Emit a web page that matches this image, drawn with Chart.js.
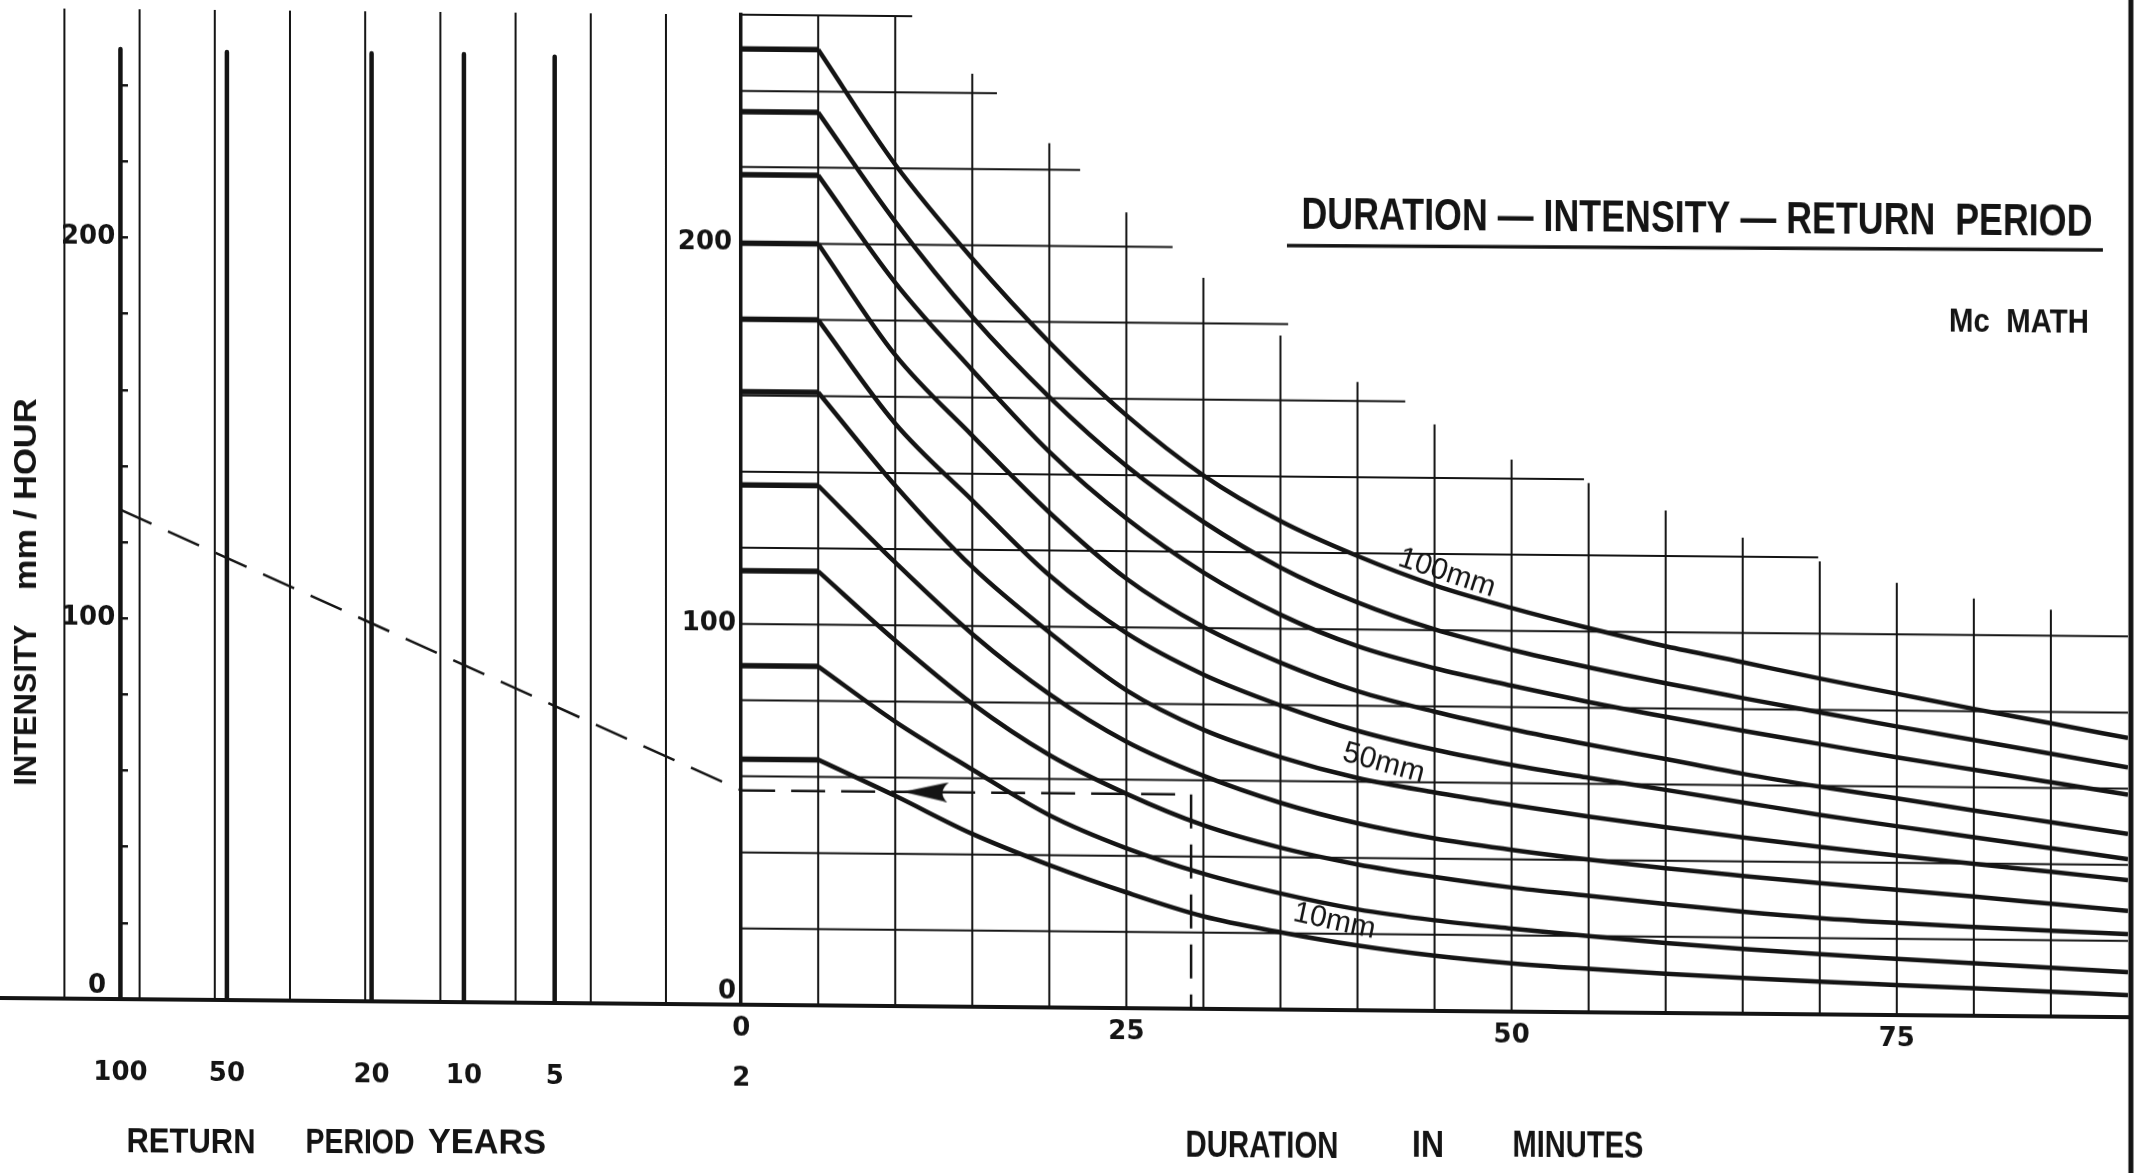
<!DOCTYPE html>
<html>
<head>
<meta charset="utf-8">
<title>Duration - Intensity - Return Period (Mc Math)</title>
<script src="https://cdn.jsdelivr.net/npm/chart.js@4.4.1/dist/chart.umd.min.js"></script>
<style>
  html, body { margin: 0; padding: 0; background: #fff; overflow: hidden; }
  #wrap { position: relative; width: 2152px; height: 1173px; overflow: hidden; background: #fff; }
  /* the scanned sheet runs slightly downhill to the right; tilt the drawing the same way */
  #nomogram { position: absolute; left: 0; top: -20px; transform: skewY(0.516deg); transform-origin: 0 0; }
</style>
</head>
<body>
<div id="wrap"><canvas id="nomogram" width="2152" height="1213"></canvas></div>
<script>
/* ---------- values ---------- */

// duration (minutes) where each rainfall curve was read
const durations = [5, 10, 15, 20, 25, 30, 35, 40, 45, 50, 55, 60, 65, 70, 75, 80, 85, 90];

// intensity (mm/hour) for each rainfall curve; first value is also the flat part below 5 min
const mm100 = [251, 221, 196.5, 174.7, 155.7, 140.1, 128.3, 119.3, 111.8, 106, 100.9, 96.3, 92.3, 88.2, 84.4, 80.6, 77, 73.3];
const mm90  = [234.5, 206, 181.2, 160.3, 142.4, 127.9, 116.1, 107.1, 100.2, 95, 90.6, 86.6, 82.9, 79.3, 75.8, 72.4, 69, 65.6];
const mm80  = [218, 190, 167.2, 145.9, 128.6, 114.6, 103.7, 95.6, 90, 85.6, 81.5, 77.8, 74.3, 71, 67.7, 64.6, 61.5, 58.4];
const mm70  = [200, 171, 150, 130, 112.8, 100.3, 91.1, 83.8, 78.6, 74.2, 70.3, 66.7, 63, 59.8, 56.9, 53.9, 51, 48.1];
const mm60  = [180, 153, 133, 113.5, 98.5, 87.8, 79.9, 73.4, 68.6, 64.8, 61.6, 58.6, 55.5, 52.4, 49.6, 46.9, 44.2, 41.5];
const mm50  = [161, 136.7, 115.5, 98.5, 83.5, 73.3, 66.3, 61, 57.4, 54.3, 51.4, 48.8, 46.3, 44, 41.9, 39.9, 38, 36];
const mm40  = [136.5, 116.5, 97.9, 82.3, 70, 61.2, 54.3, 49.1, 45.3, 42.5, 40.1, 38, 36.2, 34.5, 32.9, 31.3, 29.6, 27.9];
const mm30  = [114, 96, 79.6, 66.3, 56.3, 48.2, 42.5, 38.3, 35.2, 32.6, 30.6, 28.6, 26.8, 25.3, 24.2, 23.3, 22.5, 21.8];
const mm20  = [89, 74.7, 62.3, 50.5, 42, 35.5, 30.5, 26.5, 23.8, 21.8, 20, 18.4, 17, 15.8, 14.8, 13.8, 12.8, 11.8];
const mm10  = [64.5, 55.2, 45.4, 37.4, 30.4, 24.3, 20.3, 17, 14.5, 12.7, 11.4, 10.3, 9.4, 8.6, 7.9, 7.2, 6.5, 5.8];
const curves = [mm100, mm90, mm80, mm70, mm60, mm50, mm40, mm30, mm20, mm10];

// labelled curves: text, where it sits (minutes, mm/hour) and its tilt
const curveLabels = ['100mm', '50mm', '10mm'];
const curveLabelAt = [[45.8, 115], [41.7, 64.9], [38.5, 23.3]];
const curveLabelTilt = [18, 15, 12];

// return period scale (years) and where each lands on the probability grid
const returnPeriods = [100, 50, 20, 10, 5, 2];
const periodScalePos = [1.745, 3.161, 5.085, 6.313, 7.52, 10];
const periodLineTop = [249.5, 249, 249, 249, 248.5];
const periodGrid = [1, 2, 3, 4, 5, 6, 7, 8, 9];

// worked example: 100 yr -> 2 yr intensity, then across to the duration
const exampleIntensity = [128.5, 56.3];
const exampleDuration = 29.2;
const arrowAt = 12;

// stepped grid of the duration panel
const gridMinutes = [5, 10, 15, 20, 25, 30, 35, 40, 45, 50, 55, 60, 65, 70, 75, 80, 85];
const gridMinuteTops = [260, 260, 245, 227, 209, 192, 177, 165, 154, 145, 139, 132, 125, 119, 113.5, 109.6, 106.8];
const gridLevels = [20, 40, 60, 80, 100, 120, 140, 160, 180, 200, 220, 240, 260];
const gridLevelEnds = [90, 90, 90, 90, 90, 69.9, 54.7, 43.1, 35.5, 28, 22, 16.6, 11.1];

// axis ticks
const durationTicks = [0, 25, 50, 75];
const intensityTicks = [0, 100, 200];
const leftAxisTicks = [0, 20, 40, 60, 80, 100, 120, 140, 160, 180, 200, 220, 240];

/* ---------- scale ranges ---------- */
const durationMin = -48.1;          // the return period panel sits left of 0 min
const durationMax = 90;
const minutesPerGridUnit = 4.88;    // one probability-grid unit in minutes
const periodMin = 10 + durationMin / minutesPerGridUnit;
const periodMax = 10 + durationMax / minutesPerGridUnit;

const INK = '#141414';
const FONT = "'Liberation Sans', Arial, sans-serif";
const TICK_FONT = "'DejaVu Sans', 'Liberation Sans', sans-serif";
Chart.defaults.font.family = FONT;
Chart.defaults.color = INK;

function makeArrowHead() {
    const c = document.createElement('canvas');
    c.width = 46; c.height = 20;
    const g = c.getContext('2d');
    g.fillStyle = INK;
    g.beginPath();
    g.moveTo(0, 10);
    g.lineTo(46, 0);
    g.quadraticCurveTo(34, 10, 44, 20);
    g.closePath();
    g.fill();
    return c;
}

/* ---------- datasets ---------- */
const base = { borderColor: INK, backgroundColor: INK, pointRadius: 0, fill: false };
const datasets = [];

curves.forEach(c => {
    // flat part for durations up to 5 min
    datasets.push({ ...base, borderWidth: 5.5, data: [{ x: 0, y: c[0] }, { x: durations[0], y: c[0] }] });
    datasets.push({
        ...base, borderWidth: 4.5, cubicInterpolationMode: 'monotone', borderJoinStyle: 'round',
        data: durations.map((t, i) => ({ x: t, y: c[i] }))
    });
});

periodLineTop.forEach((top, k) => {
    datasets.push({
        ...base, xAxisID: 'xp', borderWidth: 4.5, borderCapStyle: 'round',
        data: [{ x: periodScalePos[k], y: 0 }, { x: periodScalePos[k], y: top }]
    });
});

datasets.push({
    ...base, xAxisID: 'xp', borderWidth: 2.5, borderDash: [34, 18],
    data: [{ x: periodScalePos[0], y: exampleIntensity[0] }, { x: periodScalePos[5], y: exampleIntensity[1] }]
});
datasets.push({
    ...base, borderWidth: 2.5, borderDash: [34, 16],
    data: [{ x: 0, y: exampleIntensity[1] }, { x: exampleDuration, y: exampleIntensity[1] }, { x: exampleDuration, y: 0 }]
});
datasets.push({
    ...base, showLine: false, pointRadius: 12, pointStyle: makeArrowHead(),
    data: [{ x: arrowAt, y: exampleIntensity[1] }]
});

/* ---------- custom grid + lettering ---------- */
const nomogramGrid = {
    id: 'nomogramGrid',
    beforeDatasetsDraw(chart) {
        const { ctx, scales: { x, xp, y } } = chart;
        ctx.save();
        ctx.strokeStyle = INK;
        ctx.lineWidth = 2;
        ctx.beginPath();
        gridMinutes.forEach((m, i) => {
            const px = x.getPixelForValue(m);
            ctx.moveTo(px, y.getPixelForValue(0));
            ctx.lineTo(px, y.getPixelForValue(gridMinuteTops[i]));
        });
        gridLevels.forEach((v, i) => {
            const py = y.getPixelForValue(v);
            ctx.moveTo(x.getPixelForValue(0), py);
            ctx.lineTo(x.getPixelForValue(gridLevelEnds[i]), py);
        });
        periodGrid.forEach(u => {
            const px = xp.getPixelForValue(u);
            ctx.moveTo(px, y.getPixelForValue(0));
            ctx.lineTo(px, y.getPixelForValue(260));
        });
        ctx.stroke();
        ctx.restore();
    }
};

function fitText(ctx, text, cx, cy, width, size, weight, angle) {
    ctx.save();
    ctx.font = `${weight} ${size}px ${FONT}`;
    const w = ctx.measureText(text).width;
    ctx.translate(cx, cy);
    if (angle) ctx.rotate(angle * Math.PI / 180);
    ctx.scale(width / w, 1);
    ctx.textAlign = 'center';
    ctx.textBaseline = 'middle';
    ctx.fillStyle = INK;
    ctx.fillText(text, 0, 0);
    ctx.restore();
}

const lettering = {
    id: 'lettering',
    afterDraw(chart) {
        const { ctx, scales: { x, y } } = chart;

        // right frame line
        ctx.save();
        ctx.strokeStyle = INK;
        ctx.lineWidth = 5;
        const bx = x.getPixelForValue(durationMax) + 3;
        ctx.beginPath();
        ctx.moveTo(bx, 0);
        ctx.lineTo(bx, chart.height);
        ctx.stroke();

        // title underline
        ctx.lineWidth = 3.5;
        ctx.beginPath();
        ctx.moveTo(1287, 254);
        ctx.lineTo(2103, 251);
        ctx.stroke();
        ctx.restore();

        fitText(ctx, 'DURATION \u2014 INTENSITY \u2014 RETURN  PERIOD', 1697, 225, 791, 45, 'bold');
        fitText(ctx, 'Mc  MATH', 2019, 325, 140, 34, 'bold');

        fitText(ctx, 'RETURN', 191, 1161, 129, 35, 'bold');
        fitText(ctx, 'PERIOD', 360, 1160, 109, 35, 'bold');
        fitText(ctx, 'YEARS', 487, 1159, 118, 35, 'bold');

        fitText(ctx, 'DURATION', 1262, 1156, 153, 36, 'bold');
        fitText(ctx, 'IN', 1428, 1154, 32, 36, 'bold');
        fitText(ctx, 'MINUTES', 1578, 1153, 131, 36, 'bold');

        fitText(ctx, 'INTENSITY', 27, 725, 161, 31, 'bold', -90);
        fitText(ctx, 'mm / HOUR', 27, 514, 192, 31, 'bold', -90);

        curveLabels.forEach((t, k) => {
            const [m, v] = curveLabelAt[k];
            ctx.save();
            ctx.font = `30px ${FONT}`;
            ctx.fillStyle = INK;
            ctx.textAlign = 'center';
            ctx.textBaseline = 'middle';
            ctx.translate(x.getPixelForValue(m), y.getPixelForValue(v));
            ctx.rotate(curveLabelTilt[k] * Math.PI / 180);
            ctx.fillText(t, 0, 0);
            ctx.restore();
        });
    }
};

const tickFont = { family: TICK_FONT, size: 26, weight: 'bold', lineHeight: 1 };
const noPadding = s => { s.paddingTop = 0; s.paddingBottom = 0; s.paddingLeft = 0; s.paddingRight = 0; };
const THIN = '\u2009';

new Chart(document.getElementById('nomogram'), {
    type: 'line',
    data: { datasets },
    options: {
        responsive: false,
        animation: false,
        devicePixelRatio: 1,
        events: [],
        layout: { autoPadding: false, padding: { top: 28, right: 24, bottom: 85, left: 0 } },
        plugins: { legend: { display: false }, tooltip: { enabled: false } },
        scales: {
            x: {
                type: 'linear', min: durationMin, max: durationMax, position: 'bottom', weight: 0,
                afterBuildTicks: s => { s.ticks = durationTicks.map(v => ({ value: v })); },
                afterFit: s => { s.height = 50; noPadding(s); },
                grid: { display: false, drawTicks: false },
                border: { display: true, color: INK, width: 4 },
                ticks: { padding: 9, color: INK, font: { family: TICK_FONT, size: 26, weight: 'bold' }, maxRotation: 0, autoSkip: false }
            },
            xp: {
                type: 'linear', min: periodMin, max: periodMax, position: 'bottom', weight: 1,
                afterBuildTicks: s => { s.ticks = periodScalePos.map(v => ({ value: v })); },
                afterFit: s => { s.height = 60; noPadding(s); },
                grid: { display: false, drawTicks: false },
                border: { display: false },
                ticks: { padding: 9, color: INK, font: { family: TICK_FONT, size: 26, weight: 'bold' }, maxRotation: 0, autoSkip: false,
                         callback: (v, i) => String(returnPeriods[i]) }
            },
            y: {
                type: 'linear', min: 0, max: 260, position: { x: 0 },
                afterBuildTicks: s => { s.ticks = intensityTicks.map(v => ({ value: v })); },
                afterFit: noPadding,
                grid: { display: false, drawTicks: false },
                border: { display: true, color: INK, width: 3.5 },
                ticks: { padding: 0, color: INK, font: tickFont,
                         callback: v => v === 0 ? ['0' + THIN, ''] : (v === 200 ? v + ' ' : v + THIN) }
            },
            yl: {
                type: 'linear', min: 0, max: 260, position: { xp: periodScalePos[0] },
                afterBuildTicks: s => { s.ticks = leftAxisTicks.map(v => ({ value: v })); },
                afterFit: noPadding,
                grid: { display: true, drawOnChartArea: false, drawTicks: true, tickLength: -8, color: INK, lineWidth: 2.5 },
                border: { display: false },
                ticks: { padding: 8, color: INK, font: tickFont,
                         callback: v => v === 0 ? ['0 ' + THIN, ''] : (intensityTicks.includes(v) ? v + THIN : '') }
            }
        }
    },
    plugins: [nomogramGrid, lettering]
});
</script>
</body>
</html>
